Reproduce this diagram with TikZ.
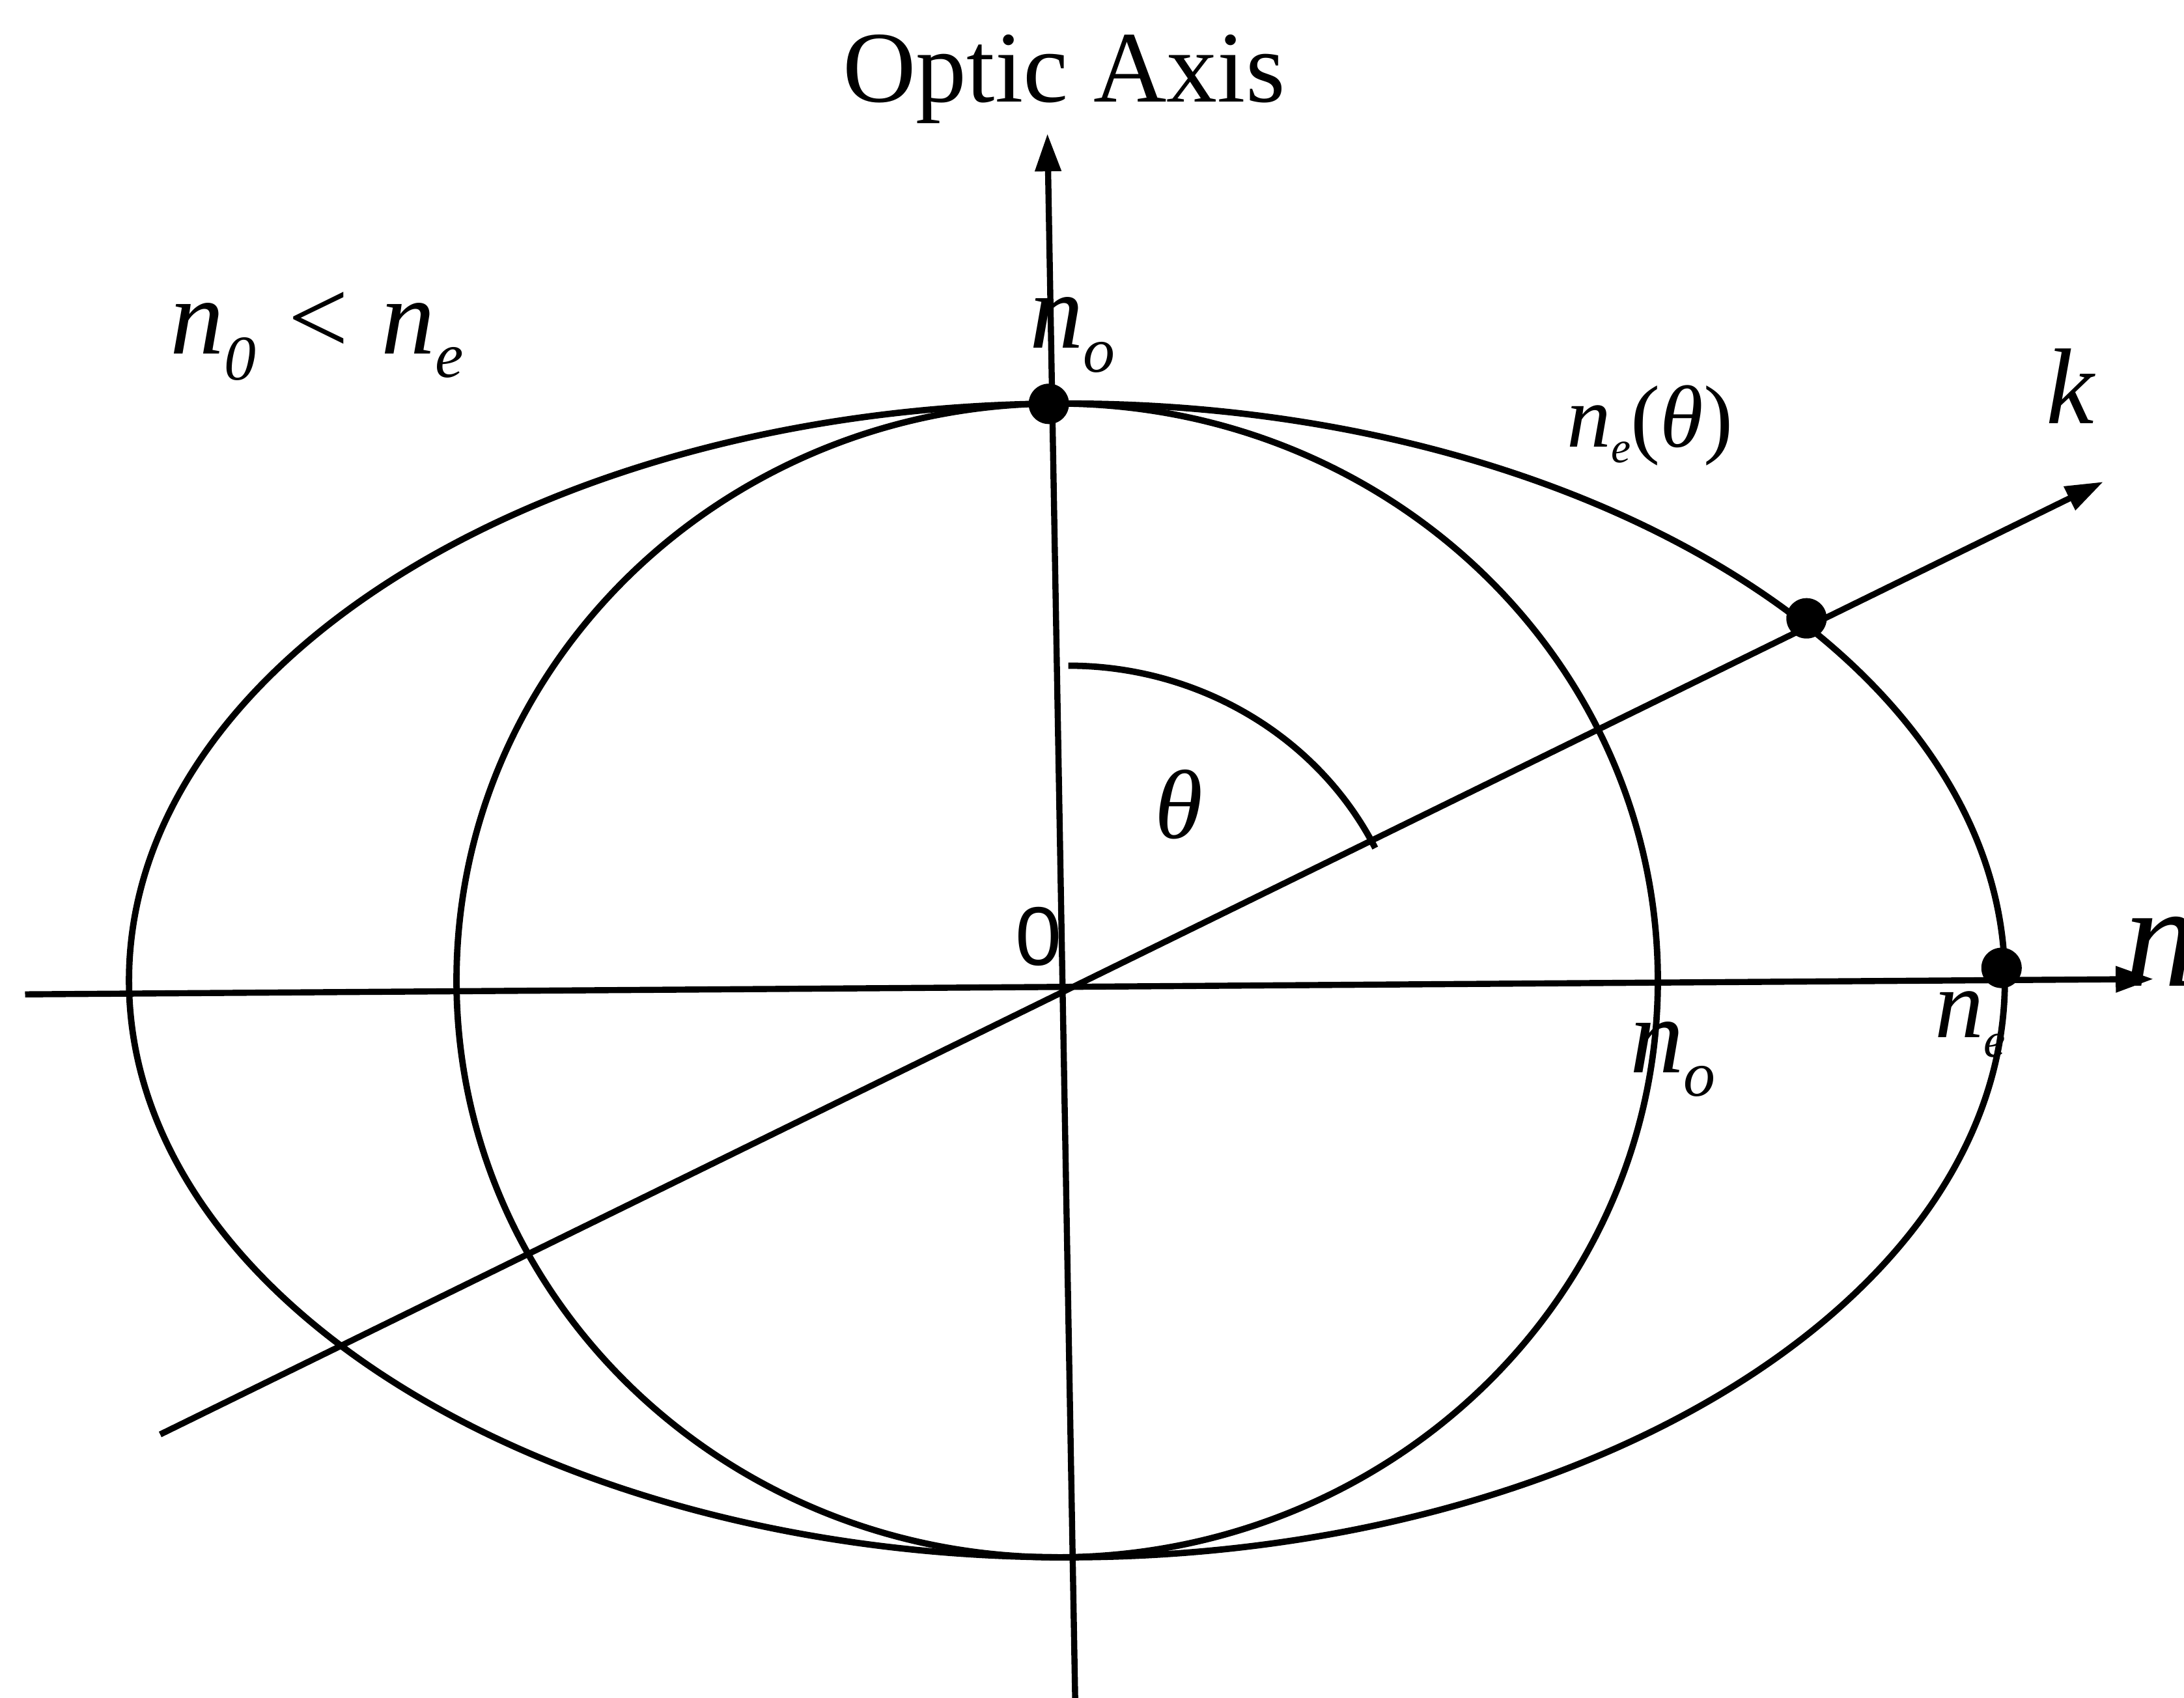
\documentclass[tikz,border=0pt]{standalone}
\usepackage{fontspec}
\setmainfont{Liberation Serif}
\newfontfamily\sansf{Liberation Sans}
\usetikzlibrary{arrows.meta}
\newcommand\nsub[2]{\textit{n}\raisebox{-0.22em}{\fontsize{#2}{#2}\selectfont\textit{#1}}}
\begin{document}
\begin{tikzpicture}[x=0.01cm,y=-0.01cm, line width=1.25pt,
  curve/.style={line width=1.3pt},
  axis/.style={line width=1.25pt,-{Triangle[length=0.27cm,width=0.18cm]}},
  lbl/.style={anchor=base west, inner sep=0pt},
  dot/.style={circle, fill=black, inner sep=0pt, minimum size=0.29cm}]
\useasboundingbox (0,0) rectangle (1568,1219);
% coordinates
\coordinate (O) at (765,711);
\coordinate (xL) at (18,714);
\coordinate (xR) at (1546,703);
\coordinate (yT) at (752,96);
\coordinate (yB) at (772,1225);
\coordinate (kL) at (115,1030);
\coordinate (kT) at (1510,346);
\coordinate (Ec) at (766,704);
\coordinate (Cc) at (759,704);
\coordinate (th0) at (767,478);
% curves
\draw[curve] (Ec) ellipse [x radius=6.73cm, y radius=4.14cm];
\draw[curve] (Cc) ellipse [x radius=4.31cm, y radius=4.14cm];
% axes
\draw[axis] (xL) -- (xR);
\draw[axis] (yB) -- (yT);
\draw[axis] (kL) -- (kT);
% theta arc
\draw[curve] (th0) arc[start angle=90, end angle=26, x radius=2.45cm, y radius=2.33cm];
% dots
\node[dot] (d1) at (753,290) {};
\node[dot] (d2) at (1297,444) {};
\node[dot] (d3) at (1437,695) {};
% labels
\node[lbl] (title) at (603,73) {\fontsize{20.7}{24}\selectfont Optic Axis};
\node[lbl] (rel) at (120,254) {\fontsize{22}{24}\selectfont \textit{n}\raisebox{-0.24em}{\fontsize{13}{13}\selectfont\textit{0}}\hspace{0.3em}<\hspace{0.3em}\nsub{e}{13}};
\node[lbl] (noT) at (737,250) {\fontsize{22}{24}\selectfont \nsub{o}{13}};
\node[lbl] (neth) at (1123,321) {\fontsize{18}{20}\selectfont \textit{n}\raisebox{-0.18em}{\fontsize{9}{9}\selectfont\textit{e}}(\textit{θ})};
\node[lbl] (klab) at (1467,304) {\fontsize{22}{24}\selectfont \textit{k}};
\node[lbl] (thlab) at (827,602) {\fontsize{20}{22}\selectfont \textit{θ}};
\node[lbl] (zero) at (727,693) {\fontsize{17}{20}\selectfont\sansf 0};
\node[lbl] (noB) at (1168,770) {\fontsize{22}{24}\selectfont \nsub{o}{13}};
\node[lbl] (neB) at (1387,745) {\fontsize{20}{22}\selectfont \textit{n}\raisebox{-0.2em}{\fontsize{10}{10}\selectfont\textit{e}}};
\node[lbl] (nax) at (1523,708) {\fontsize{30}{32}\selectfont \textit{n}};
\end{tikzpicture}
\end{document}
